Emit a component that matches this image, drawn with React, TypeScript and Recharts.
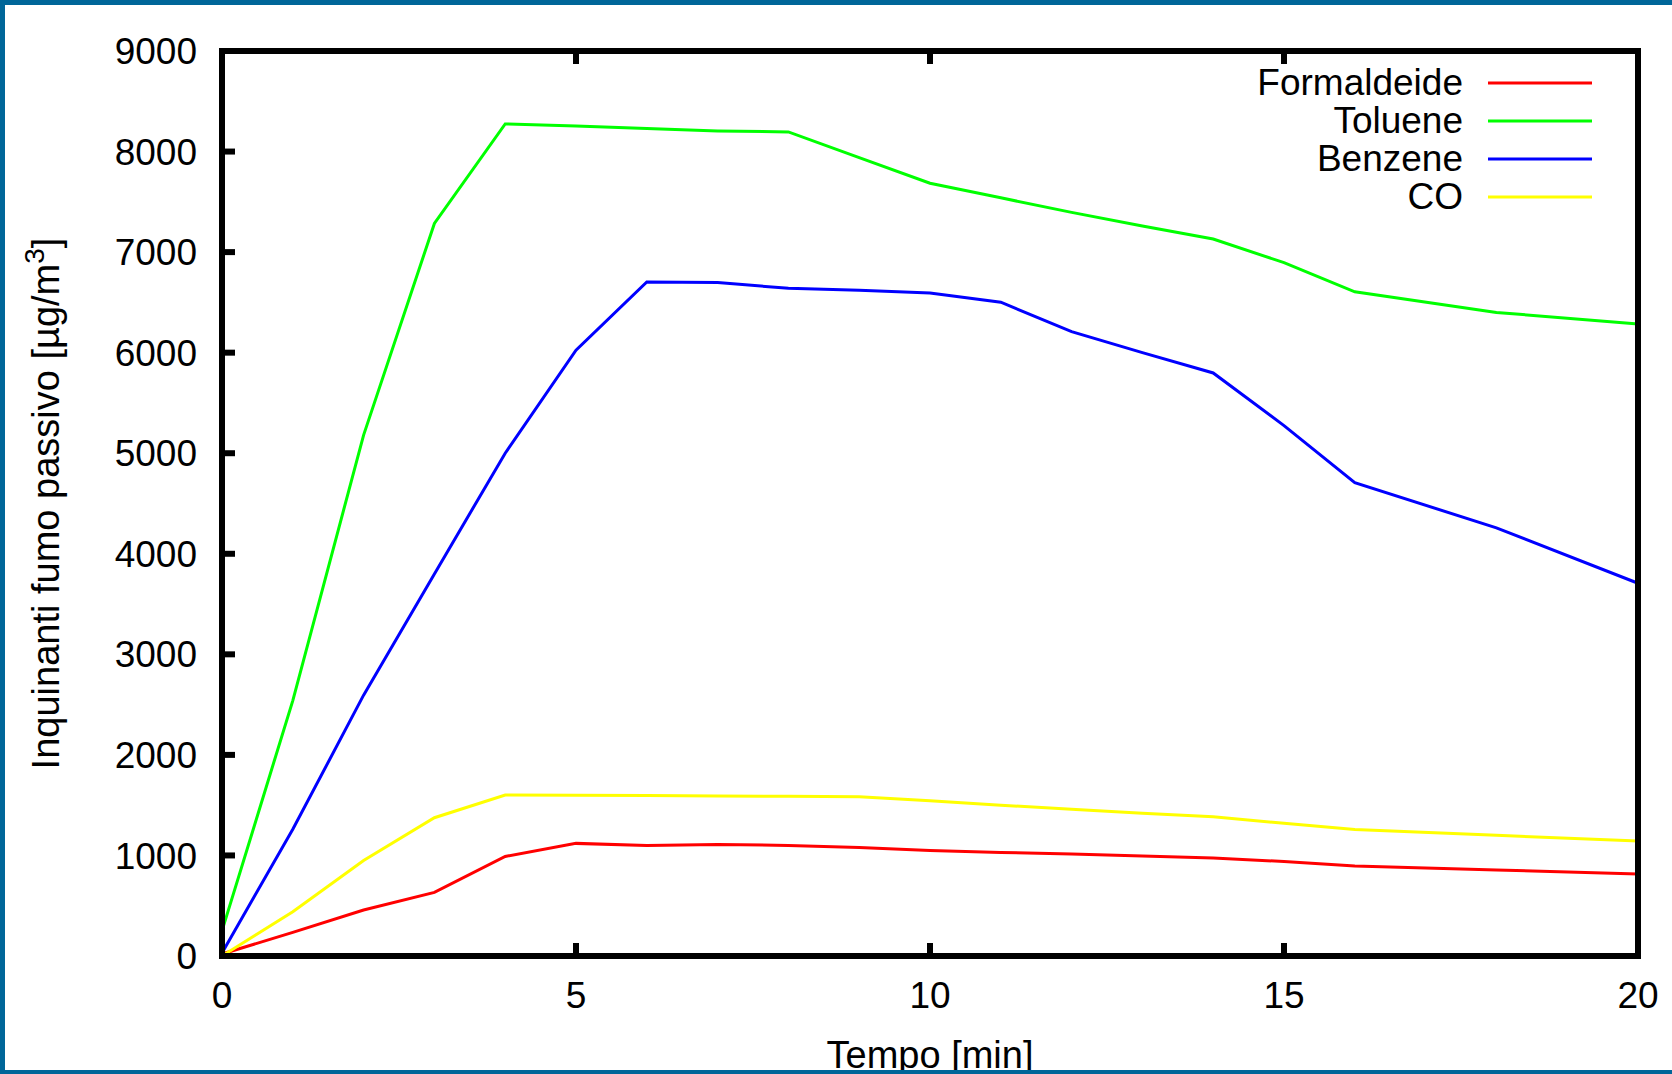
import { LineChart, Line, XAxis, YAxis, Legend } from "recharts";

// Minutes of sampling (x axis)
const minutes = [0, 1, 2, 3, 4, 5, 6, 7, 8, 9, 10, 11, 12, 13, 14, 15, 16, 18, 20];

// Concentrations in µg/m3
const formaldeide = [20, 235, 457, 632, 990, 1120, 1100, 1110, 1100, 1080, 1050, 1030, 1015, 995, 975, 940, 895, 855, 815];
const toluene = [250, 2540, 5180, 7285, 8275, 8255, 8230, 8205, 8195, 7940, 7685, 7540, 7395, 7260, 7130, 6895, 6605, 6400, 6285];
const benzene = [30, 1260, 2594, 3800, 5000, 6025, 6703, 6697, 6640, 6620, 6594, 6502, 6209, 6000, 5798, 5275, 4707, 4258, 3707];
const co = [0, 440, 950, 1375, 1600, 1598, 1596, 1592, 1588, 1584, 1544, 1500, 1460, 1420, 1385, 1320, 1259, 1200, 1143];

const xTicks = [0, 5, 10, 15, 20];
const yTicks = [0, 1000, 2000, 3000, 4000, 5000, 6000, 7000, 8000, 9000];

const series = [
  { key: "formaldeide", name: "Formaldeide", color: "#ff0000" },
  { key: "toluene", name: "Toluene", color: "#00ff00" },
  { key: "benzene", name: "Benzene", color: "#0000ff" },
  { key: "co", name: "CO", color: "#ffff00" },
];

const data = minutes.map((t, i) => ({
  t,
  formaldeide: formaldeide[i],
  toluene: toluene[i],
  benzene: benzene[i],
  co: co[i],
}));

const FONT = '"Liberation Sans", Arial, Helvetica, sans-serif';
const FRAME = "#006699";
const TICK_LEN = 13;
const axisStroke = { stroke: "#000", strokeWidth: 6, strokeLinecap: "square" as const };
const tickText = { fontSize: 37, fill: "#000", fontFamily: FONT };

// gnuplot style: tick marks point into the plot, labels sit outside
function LeftTick({ x, y, payload }: any) {
  return (
    <g>
      <line x1={x} x2={x + TICK_LEN} y1={y} y2={y} stroke="#000" strokeWidth={6} />
      <text x={x - 25} y={y} dy="0.355em" textAnchor="end" {...tickText}>
        {payload.value}
      </text>
    </g>
  );
}

function BottomTick({ x, y, payload }: any) {
  return (
    <g>
      <line x1={x} x2={x} y1={y} y2={y - TICK_LEN} stroke="#000" strokeWidth={6} />
      <text x={x} y={y + 52} textAnchor="middle" {...tickText}>
        {payload.value}
      </text>
    </g>
  );
}

function TopTick({ x, y }: any) {
  return <line x1={x} x2={x} y1={y} y2={y + TICK_LEN} stroke="#000" strokeWidth={6} />;
}

function RightTick({ x, y }: any) {
  return <line x1={x} x2={x - TICK_LEN} y1={y} y2={y} stroke="#000" strokeWidth={6} />;
}

function LegendBox({ payload }: any) {
  const order = series.map((s) => s.name);
  const items = [...(payload ?? [])].sort((a: any, b: any) => order.indexOf(a.value) - order.indexOf(b.value));
  return (
    <div style={{ display: "flex", flexDirection: "column", alignItems: "flex-end" }}>
      {items.map((p: any) => (
        <div key={p.value} style={{ display: "flex", alignItems: "center", height: 38 }}>
          <span style={{ fontFamily: FONT, fontSize: 37, lineHeight: "38px", color: "#000" }}>{p.value}</span>
          <svg width={104} height={38} style={{ marginLeft: 25, display: "block" }}>
            <line x1={0} x2={104} y1={19} y2={19} stroke={p.color} strokeWidth={3} />
          </svg>
        </div>
      ))}
    </div>
  );
}

function YTitle({ viewBox }: any) {
  const x = viewBox.x + 59;
  const y = viewBox.y + viewBox.height / 2;
  return (
    <text x={x} y={y} transform={`rotate(-90, ${x}, ${y})`} textAnchor="middle" fontFamily={FONT} fontSize={38} fill="#000">
      Inquinanti fumo passivo [µg/m
      <tspan baselineShift="super" fontSize={28}>3</tspan>
      <tspan baselineShift="0">]</tspan>
    </text>
  );
}

function XTitle({ viewBox }: any) {
  return (
    <text x={viewBox.x + viewBox.width / 2} y={viewBox.y + 112} textAnchor="middle" fontFamily={FONT} fontSize={38} fill="#000">
      Tempo [min]
    </text>
  );
}

export default function App() {
  return (
    <div style={{ position: "absolute", left: 0, top: 0, width: 1672, height: 1074, background: "#fff" }}>
      <LineChart width={1672} height={1074} data={data} margin={{ top: 50, right: 33, left: 0, bottom: 0 }}>
        <XAxis
          dataKey="t"
          type="number"
          domain={[0, 20]}
          ticks={xTicks}
          height={118}
          axisLine={axisStroke}
          tickLine={false}
          tickSize={0}
          tickMargin={0}
          tick={<BottomTick />}
          label={{ content: XTitle }}
        />
        <XAxis
          xAxisId="top"
          orientation="top"
          dataKey="t"
          type="number"
          domain={[0, 20]}
          ticks={xTicks}
          height={1}
          axisLine={axisStroke}
          tickLine={false}
          tickSize={0}
          tickMargin={0}
          tick={<TopTick />}
        />
        <YAxis
          type="number"
          domain={[0, 9000]}
          ticks={yTicks}
          width={222}
          axisLine={axisStroke}
          tickLine={false}
          tickSize={0}
          tickMargin={0}
          tick={<LeftTick />}
          label={{ content: YTitle }}
        />
        <YAxis
          yAxisId="right"
          orientation="right"
          type="number"
          domain={[0, 9000]}
          ticks={yTicks}
          width={1}
          axisLine={axisStroke}
          tickLine={false}
          tickSize={0}
          tickMargin={0}
          tick={<RightTick />}
        />
        <Legend
          layout="horizontal"
          verticalAlign="middle"
          align="center"
          wrapperStyle={{ position: "absolute", left: 1000, top: 64, width: 592 }}
          content={LegendBox}
        />
        {series.map((s) => (
          <Line
            key={s.key}
            type="linear"
            dataKey={s.key}
            name={s.name}
            stroke={s.color}
            strokeWidth={3}
            dot={false}
            isAnimationActive={false}
          />
        ))}
      </LineChart>
      <div style={{ position: "absolute", left: 0, top: 0, width: 1672, height: 5, background: FRAME }} />
      <div style={{ position: "absolute", left: 0, top: 0, width: 5, height: 1074, background: FRAME }} />
      <div style={{ position: "absolute", left: 0, top: 1070, width: 1672, height: 4, background: FRAME }} />
    </div>
  );
}
